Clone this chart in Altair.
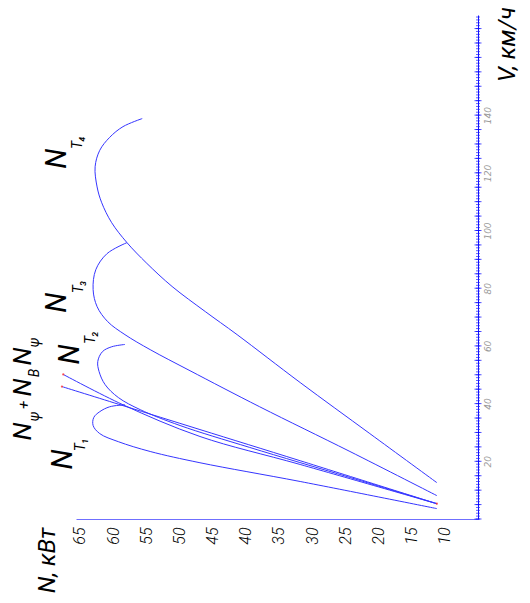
import altair as alt
import pandas as pd

# ---- curves: speed V (km/h) and power N (kW) ----
nt1_v = [3.6, 13.0, 19.5, 23.4, 26.8, 29.6, 32.4, 35.2, 37.2, 38.9, 39.6]
nt1_n = [11.2, 31.8, 46.9, 54.4, 59.2, 62.0, 63.0, 62.9, 62.0, 60.5, 58.2]

nt2_v = [5.3, 14.4, 24.8, 32.4, 37.9, 42.1, 46.6, 51.1, 54.6, 58.0, 59.7, 60.5]
nt2_n = [11.2, 24.3, 39.4, 49.9, 55.9, 59.2, 61.2, 62.1, 62.3, 61.6, 60.2, 58.2]

nt3_v = [8.1, 23.4, 38.9, 51.4, 58.7, 63.9, 68.4, 73.6, 79.5, 86.4, 92.0, 95.8]
nt3_n = [11.2, 24.3, 37.9, 48.4, 54.4, 58.2, 60.8, 62.4, 63.0, 62.6, 60.9, 57.9]

nt4_v = [12.6, 29.6, 47.3, 63.9, 71.9, 80.6, 88.6, 95.8, 102.7, 109.6, 115.1,
         122.1, 127.8, 132.3, 136.0, 138.8]
nt4_n = [11.2, 21.3, 31.8, 41.3, 46.1, 51.1, 54.9, 57.9, 60.2, 61.7, 62.4,
         62.7, 62.0, 60.5, 58.5, 55.6]

npsi_v = [5.3, 20.2, 31.0, 39.3, 45.9]
npsi_n = [11.2, 31.8, 46.9, 58.5, 67.7]

npsinb_v = [5.3, 18.9, 28.6, 39.6, 50.1]
npsinb_n = [11.2, 31.8, 46.9, 58.5, 67.5]

# ---- axis values ----
n_ticks = [10, 15, 20, 25, 30, 35, 40, 45, 50, 55, 60, 65]
v_labels = [20, 40, 60, 80, 100, 120, 140]
v_minor = list(range(0, 175, 1))
v_major = list(range(0, 175, 5))
n_axis_min, n_axis_max = 5, 65.58
v_axis_max = 174.7

# ---- curve labels (text, N, V, font size) ----
lab_text = ["N", "T\u2081", "N", "T\u2082", "N", "T\u2083", "N", "T\u2084",
            "N", "\u03c8", "+", "N", "B", "N", "\u03c8"]
lab_n = [67.5, 64.8, 66.5, 63.3, 68.4, 65.1, 68.4, 65.3,
         73.6, 71.8, 73.4, 73.6, 71.8, 73.6, 71.8]
lab_v = [20.6, 25.8, 57.0, 62.9, 75.0, 80.5, 124.9, 130.5,
         30.3, 35.5, 39.6, 45.6, 50.6, 56.3, 61.2]
lab_size = [29, 14, 29, 14, 29, 14, 29, 14,
            26, 14, 15, 26, 14, 26, 14]

rows = []
for name, vs, ns in [("NT1", nt1_v, nt1_n), ("NT2", nt2_v, nt2_n),
                     ("NT3", nt3_v, nt3_n), ("NT4", nt4_v, nt4_n),
                     ("Npsi", npsi_v, npsi_n), ("NpsiNB", npsinb_v, npsinb_n)]:
    for i, (v, n) in enumerate(zip(vs, ns)):
        rows.append({"curve": name, "i": i, "V": v, "N": n})
curves = pd.DataFrame(rows)

ends = pd.DataFrame({"V": [npsi_v[0], npsi_v[-1], npsinb_v[-1]],
                     "N": [npsi_n[0], npsi_n[-1], npsinb_n[-1]]})
labels = pd.DataFrame({"t": lab_text, "N": lab_n, "V": lab_v, "s": lab_size})
minor = pd.DataFrame({"V": v_minor, "N": n_axis_min})
major = pd.DataFrame({"V": v_major, "N": n_axis_min})

FONT = "Roboto"

xs = alt.Scale(domain=[n_axis_min, n_axis_max], reverse=True, nice=False, zero=False)
ys = alt.Scale(domain=[0, v_axis_max], nice=False, zero=False)

x_axis = alt.Axis(values=n_ticks, labelAngle=270, labelAlign="right", labelBaseline="middle",
                  labelFontSize=16, labelColor="black", labelFont=FONT, labelFontWeight=300,
                  labelFontStyle="italic", ticks=False, tickSize=0, labelPadding=8,
                  grid=False, domainColor="#6f6fff", domainWidth=1, labelFlush=False,
                  labelOverlap=False, title="N, кВт", titleAngle=270, titleX=-29, titleY=41,
                  titleAlign="center", titleBaseline="middle", titleFontSize=24,
                  titleFont=FONT, titleFontWeight=400, titleFontStyle="italic",
                  titleColor="black")
y_axis = alt.Axis(values=v_labels, orient="right", labelAngle=270, labelAlign="center",
                  labelBaseline="top", labelFontSize=9, labelColor="#9a9a9a",
                  labelFont="DejaVu Sans", labelFontStyle="italic", ticks=False, tickSize=0,
                  labelPadding=5, grid=False, domainColor="#1010ff", domainWidth=1,
                  labelFlush=False, labelOverlap=False,
                  title="V, км/ч", titleAngle=270, titleX=29, titleY=29,
                  titleAlign="center", titleBaseline="middle", titleFontSize=24,
                  titleFont=FONT, titleFontWeight=400, titleFontStyle="italic",
                  titleColor="black")

X = alt.X("N:Q", scale=xs, axis=x_axis)
Y = alt.Y("V:Q", scale=ys, axis=y_axis)

lines = alt.Chart(curves).mark_line(color="#3535ff", strokeWidth=1,
                                    interpolate="catmull-rom").encode(
    x=X, y=Y, detail="curve:N", order="i:Q")

minor_t = alt.Chart(minor).mark_tick(orient="horizontal", size=4, thickness=1,
                                     color="#2020ff").encode(x=X, y=Y)
major_t = alt.Chart(major).mark_tick(orient="horizontal", size=7, thickness=1,
                                     color="#0000ff").encode(x=X, y=Y)

dots = alt.Chart(ends).mark_circle(color="#ff3030", size=5, opacity=0.8).encode(x=X, y=Y)

texts = alt.Chart(labels).mark_text(angle=270, align="center", baseline="middle",
                                    font=FONT, fontWeight=400, fontStyle="italic",
                                    color="black").encode(
    x=X, y=Y, text="t:N",
    size=alt.Size("s:Q", scale=None, legend=None))

chart = alt.layer(lines, minor_t, major_t, dots, texts).properties(
    width=402, height=504,
    autosize=alt.AutoSizeParams(type="none"),
    padding={"left": 68, "top": 7, "right": 44, "bottom": 76},
    background="white",
).configure_view(stroke=None)

chart.save("out.html", embed_options={"renderer": "svg", "actions": False})
